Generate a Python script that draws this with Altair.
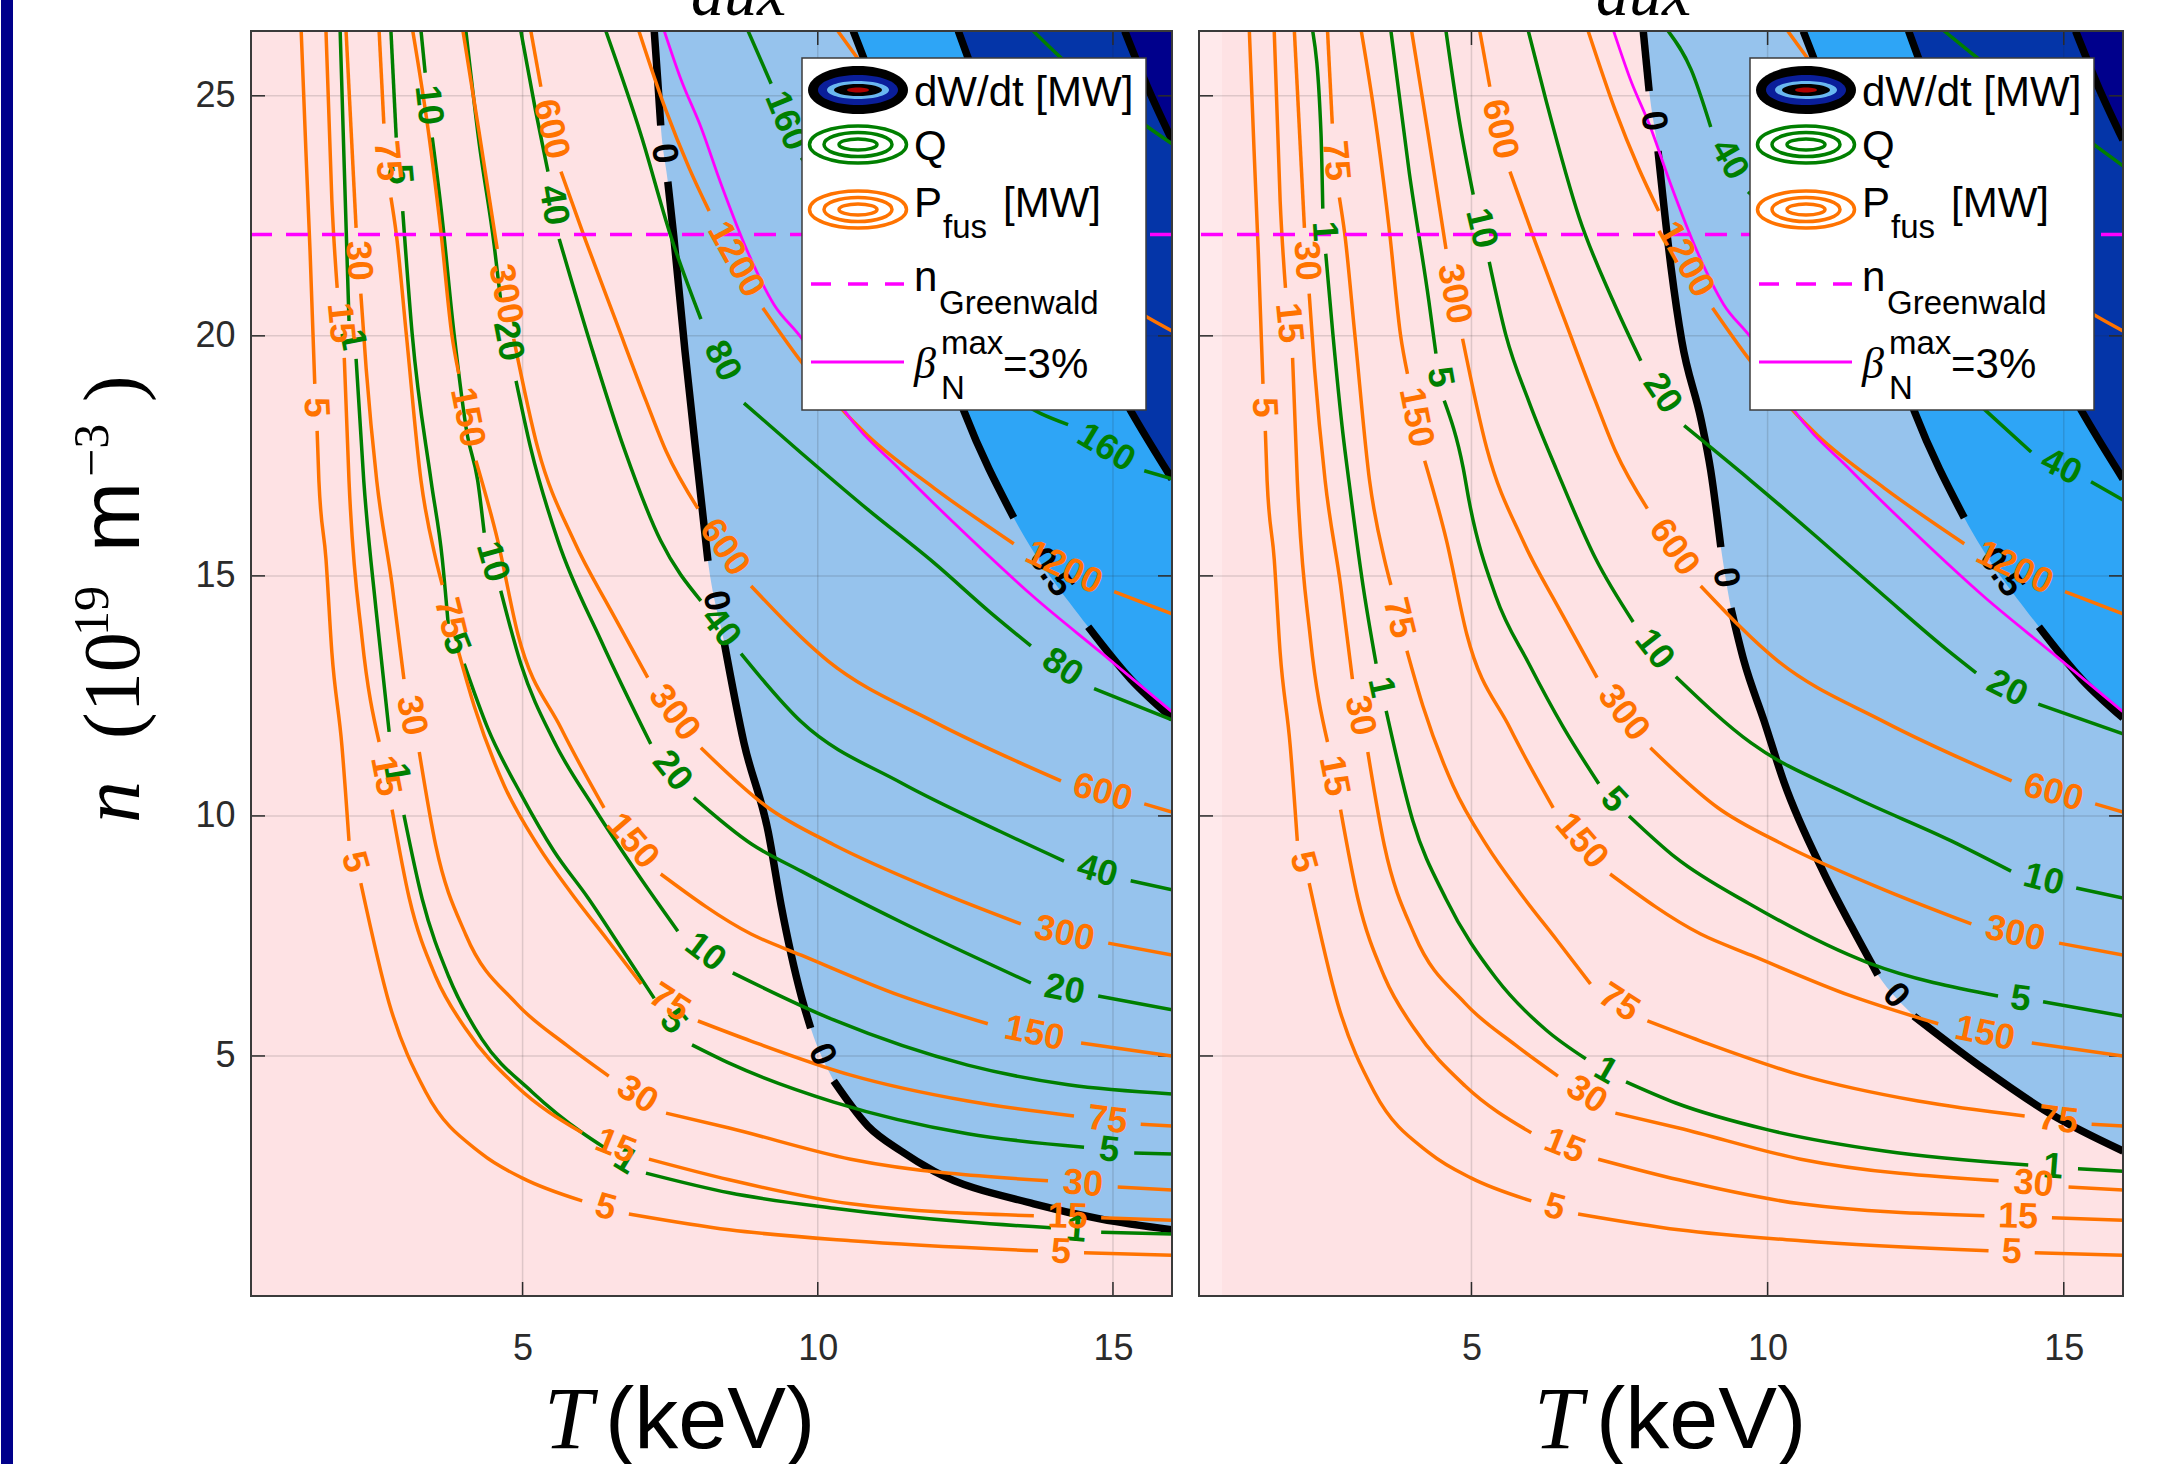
import math
import altair as alt
import pandas as pd

# ---------------- values ----------------
T_DOMAIN = [0.4, 16.0]          # keV
N_DOMAIN = [0.0, 26.35]         # 1e19 m^-3
X_TICKS = [5, 10, 15]
Y_TICKS = [5, 10, 15, 20, 25]
GREENWALD_N = 22.11
RIGHT_STRIP_T = [0.4, 0.79]     # slightly lighter lowest dW/dt band, right panel

# Fusion power contours [MW] (same in both panels); each list = segments, breaks = label gaps
PFUS_5 = [
    [(1.25, 26.35), (1.33, 23.85), (1.40, 21.77), (1.48, 19.00)],
    [(1.52, 18.02), (1.55, 16.98), (1.67, 15.35), (1.77, 13.40), (1.94, 11.46), (2.06, 9.48)],
    [(2.26, 8.60), (2.74, 6.10), (3.36, 4.25), (4.31, 2.96), (4.99, 2.46), (6.01, 1.98)],
    [(6.80, 1.71), (8.50, 1.38), (10.56, 1.15), (13.73, 0.94)],
    [(14.51, 0.90), (16.0, 0.85)],
]
PFUS_15 = [
    [(1.67, 26.35), (1.77, 22.81), (1.86, 21.00)],
    [(1.98, 19.54), (2.06, 16.98), (2.28, 13.71), (2.57, 11.54)],
    [(2.79, 10.13), (3.08, 8.29), (3.53, 6.65), (4.04, 5.56), (4.89, 4.38), (6.01, 3.40)],
    [(7.14, 2.85), (8.50, 2.42), (10.56, 1.92), (13.66, 1.67)],
    [(14.80, 1.63), (16.0, 1.58)],
]
PFUS_30 = [
    [(2.01, 26.35), (2.18, 22.25)],
    [(2.26, 20.88), (2.35, 19.33), (2.53, 16.98), (2.79, 14.81), (2.99, 12.85)],
    [(3.25, 11.33), (3.53, 9.38), (4.04, 7.52), (4.89, 6.10), (5.74, 5.23), (6.46, 4.58)],
    [(7.43, 3.81), (8.50, 3.50), (10.56, 2.85), (13.90, 2.40)],
    [(15.08, 2.27), (16.0, 2.21)],
]
PFUS_75 = [
    [(2.57, 26.35), (2.65, 24.42)],
    [(2.77, 22.88), (2.86, 22.13), (3.03, 20.04), (3.28, 16.98), (3.53, 15.35), (3.64, 14.81)],
    [(3.91, 13.44), (4.18, 12.29), (4.69, 10.63), (5.26, 9.38), (5.82, 8.40), (6.45, 7.40), (7.01, 6.50)],
    [(7.97, 5.73), (8.87, 5.31), (10.56, 4.60), (12.54, 4.06), (14.34, 3.75)],
    [(15.47, 3.58), (16.0, 3.54)],
]
PFUS_150 = [
    [(3.14, 26.35), (3.41, 24.21), (3.62, 22.13), (3.80, 20.04), (3.92, 19.21)],
    [(4.21, 17.40), (4.58, 15.73), (4.92, 13.79), (5.65, 11.83), (6.38, 10.17)],
    [(7.34, 8.79), (8.87, 7.54), (9.72, 7.10), (11.41, 6.25), (12.88, 5.67)],
    [(14.46, 5.27), (16.0, 5.00)],
]
PFUS_300 = [
    [(3.99, 26.35), (4.26, 24.27), (4.57, 21.81)],
    [(4.85, 19.94), (5.26, 17.65), (5.87, 15.73), (6.50, 14.27), (7.12, 12.88)],
    [(8.02, 11.42), (9.16, 10.17), (10.27, 9.40), (11.97, 8.46), (13.44, 7.75)],
    [(14.92, 7.35), (16.0, 7.10)],
]
PFUS_600 = [
    [(5.14, 26.35), (5.31, 25.19)],
    [(5.65, 23.42), (6.07, 21.98), (6.58, 20.31), (7.09, 18.65), (7.43, 17.60), (7.97, 16.40)],
    [(8.87, 14.79), (10.17, 13.23), (11.97, 11.96), (14.12, 10.73)],
    [(15.53, 10.25), (16.0, 10.08)],
]
PFUS_1200 = [
    [(6.97, 26.35), (7.43, 24.69), (7.82, 23.50), (8.16, 22.60)],
    [(9.07, 20.58), (9.72, 19.46), (10.85, 17.92), (11.97, 16.83), (13.32, 15.67)],
    [(15.02, 14.67), (16.0, 14.21)],
]
PFUS_2400 = [[(10.34, 26.35), (10.73, 25.69), (15.59, 20.38), (16.0, 20.10)]]

# Q contours, left panel
Q_L_1 = [
    [(1.91, 26.35), (1.98, 23.50), (2.06, 20.31)],
    [(2.18, 19.52), (2.31, 16.98), (2.52, 14.27), (2.74, 11.75)],
    [(2.99, 10.02), (3.30, 8.27), (3.75, 6.65), (4.31, 5.35), (5.16, 4.25), (6.01, 3.40), (6.40, 3.08)],
    [(7.09, 2.56), (8.50, 2.15), (10.27, 1.83), (12.54, 1.54), (13.95, 1.42)],
    [(14.80, 1.33), (16.0, 1.29)],
]
Q_L_5 = [
    [(2.77, 26.35), (2.86, 24.13)],
    [(2.97, 22.60), (3.13, 20.04), (3.45, 16.98), (3.64, 15.35), (3.74, 14.00)],
    [(4.01, 13.17), (4.41, 11.83), (4.97, 10.46), (5.53, 9.27), (6.11, 8.29), (6.67, 7.25), (7.23, 6.20)],
    [(7.87, 5.23), (8.50, 4.85), (10.27, 4.04), (12.54, 3.38), (14.51, 3.10)],
    [(15.36, 2.98), (16.0, 2.96)],
]
Q_L_10 = [
    [(3.28, 26.35), (3.35, 25.48)],
    [(3.47, 24.13), (3.62, 22.65), (3.84, 20.04), (4.06, 17.96), (4.24, 16.98), (4.35, 15.90)],
    [(4.63, 14.69), (4.97, 13.17), (5.53, 11.56), (6.21, 10.17), (6.95, 8.79), (7.63, 7.60)],
    [(8.56, 6.73), (10.27, 5.75), (12.54, 4.81), (14.24, 4.40), (16.0, 4.21)],
]
Q_L_20 = [
    [(4.04, 26.35), (4.26, 24.06), (4.52, 21.88), (4.63, 20.73)],
    [(4.89, 19.06), (5.14, 17.65), (5.60, 15.73), (6.33, 13.65), (7.17, 11.50)],
    [(7.90, 10.38), (8.87, 9.42), (9.72, 8.85), (11.41, 7.79), (13.61, 6.52)],
    [(14.75, 6.25), (16.0, 5.96)],
]
Q_L_40 = [
    [(4.97, 26.35), (5.22, 24.69), (5.43, 23.42)],
    [(5.62, 22.02), (6.16, 19.79), (6.72, 17.65), (7.34, 15.73), (8.02, 14.48)],
    [(8.70, 13.38), (9.72, 11.96), (11.41, 10.69), (13.10, 9.67), (14.17, 9.06)],
    [(15.30, 8.65), (16.0, 8.46)],
]
Q_L_80 = [
    [(6.41, 26.35), (7.01, 24.17), (7.51, 22.08), (8.02, 20.35)],
    [(8.75, 18.60), (9.72, 17.56), (10.85, 16.38), (11.97, 15.27), (12.93, 14.23), (13.61, 13.54)],
    [(14.68, 12.65), (16.0, 12.00)],
]
Q_L_160 = [
    [(8.82, 26.35), (9.21, 25.25)],
    [(9.72, 23.71), (13.78, 18.38), (14.24, 18.15)],
    [(15.53, 17.19), (16.0, 17.02)],
]
Q_L_320 = [[(13.65, 26.35), (14.12, 25.79), (15.59, 24.35), (16.0, 24.00)]]

# Q contours, right panel
Q_R_1 = [
    [(2.32, 26.35), (2.46, 24.21), (2.49, 22.65)],
    [(2.54, 21.71), (2.66, 20.04), (2.83, 17.96), (2.93, 16.98), (3.17, 14.79), (3.39, 13.17)],
    [(3.56, 12.19), (4.01, 9.90), (4.57, 8.27), (5.41, 6.63), (6.26, 5.54), (6.93, 4.94)],
    [(7.61, 4.46), (8.45, 4.02), (10.01, 3.46), (11.97, 3.02), (14.40, 2.73)],
    [(15.24, 2.65), (16.0, 2.60)],
]
Q_R_5 = [
    [(3.64, 26.35), (3.95, 23.40), (4.28, 20.73), (4.40, 19.63)],
    [(4.54, 18.65), (4.86, 17.25), (4.96, 16.56), (5.41, 14.58), (5.97, 13.17), (6.55, 11.85), (7.15, 10.67)],
    [(7.66, 10.00), (8.45, 9.13), (9.72, 8.15), (11.70, 6.94), (13.89, 6.25)],
    [(14.65, 6.13), (16.0, 5.83)],
]
Q_R_10 = [
    [(4.57, 26.35), (4.79, 24.52), (5.03, 22.94)],
    [(5.30, 21.54), (5.58, 20.02), (5.97, 18.63), (6.43, 17.23), (7.10, 15.35), (7.73, 14.04)],
    [(8.45, 12.90), (9.72, 11.52), (11.41, 10.42), (13.10, 9.48), (14.11, 8.85)],
    [(15.21, 8.50), (16.0, 8.29)],
]
Q_R_20 = [
    [(5.96, 26.35), (6.26, 24.90), (6.82, 22.46), (7.39, 20.73), (7.86, 19.48)],
    [(8.59, 18.13), (9.72, 16.98), (10.85, 15.79), (11.97, 14.58), (13.01, 13.48), (13.52, 12.98)],
    [(14.57, 12.33), (16.0, 11.71)],
]
Q_R_40 = [
    [(8.32, 26.35), (8.71, 25.54), (9.04, 24.35)],
    [(9.67, 23.00), (13.72, 18.40), (14.45, 17.58)],
    [(15.46, 16.96), (16.0, 16.58)],
]
Q_R_80 = [[(12.98, 26.35), (13.43, 25.90), (15.58, 23.92), (16.0, 23.54)]]

# dW/dt contours [MW]
DW0_L = [
    [(7.23, 26.35), (7.29, 25.31), (7.34, 24.38)],
    [(7.46, 23.21), (7.56, 22.08), (7.75, 19.69), (7.99, 16.98), (8.14, 15.31)],
    [(8.41, 13.65), (8.75, 11.52), (9.16, 9.67), (9.38, 8.13), (9.72, 6.25), (9.88, 5.58)],
    [(10.27, 4.48), (10.85, 3.54), (11.41, 3.02), (11.97, 2.60), (13.66, 1.92), (14.80, 1.60), (16.0, 1.38)],
]
DW0_R = [
    [(7.90, 26.35), (8.00, 25.10)],
    [(8.15, 23.85), (8.37, 21.42), (8.55, 19.90), (8.88, 18.23), (9.04, 17.19), (9.21, 15.60)],
    [(9.38, 14.33), (9.60, 13.23), (9.94, 11.98), (10.28, 10.69), (10.95, 8.81), (11.41, 7.71), (11.86, 6.69)],
    [(12.47, 5.83), (13.65, 4.73), (14.78, 3.79), (16.0, 3.02)],
]
DW_05 = [
    [(10.60, 26.35), (10.77, 25.81), (12.48, 18.42), (13.32, 16.21)],
    [(14.58, 13.94), (15.30, 12.85), (16.0, 12.04)],
]
DW_1 = [[(12.38, 26.35), (12.54, 25.81), (15.30, 18.44), (16.0, 17.02)]]
DW_2 = [[(15.20, 26.35), (15.59, 25.17), (16.0, 24.08)]]

BETA_LIMIT = [(7.40, 26.35), (7.68, 25.35), (8.02, 24.35), (8.36, 23.17), (8.82, 21.73), (9.26, 20.65),
              (9.72, 19.96), (10.44, 18.46), (11.41, 17.19), (12.54, 15.83), (13.66, 14.56),
              (14.80, 13.40), (16.0, 12.17)]

PFUS_CURVES = [("5", PFUS_5), ("15", PFUS_15), ("30", PFUS_30), ("75", PFUS_75), ("150", PFUS_150),
               ("300", PFUS_300), ("600", PFUS_600), ("1200", PFUS_1200), ("2400", PFUS_2400)]
Q_LEFT = [("1", Q_L_1), ("5", Q_L_5), ("10", Q_L_10), ("20", Q_L_20), ("40", Q_L_40),
          ("80", Q_L_80), ("160", Q_L_160), ("320", Q_L_320)]
Q_RIGHT = [("1", Q_R_1), ("5", Q_R_5), ("10", Q_R_10), ("20", Q_R_20), ("40", Q_R_40), ("80", Q_R_80)]

# ---------------- styling ----------------
W_L, W_R, H = 921, 924, 1265
ORANGE = "#ff7300"
GREEN = "#007f00"
MAGENTA = "#ff00ff"
PINK = "#fee2e4"
PALE_PINK = "#ffe9eb"
LIGHT_BLUE = "#96c3ed"
BRIGHT_BLUE = "#2ea5f6"
MID_BLUE = "#0435a8"
NAVY = "#00008c"
AXIS_GRAY = "#2b2b2b"
SANS = "Liberation Sans"
SERIF = "Liberation Serif"
ONE = pd.DataFrame({"k": [0]})
TOP_EXTRA = 100   # room above the page for the cut-off panel titles


def curve_frames(curves, width):
    pxT = width / (T_DOMAIN[1] - T_DOMAIN[0])
    pxN = H / (N_DOMAIN[1] - N_DOMAIN[0])
    lines, labels = [], []
    for ci, (name, segs) in enumerate(curves):
        for si, seg in enumerate(segs):
            for i, (t, n) in enumerate(seg):
                lines.append({"T": t, "n": n, "seg": f"c{ci}s{si}", "i": i})
            if si + 1 < len(segs):
                t1, n1 = seg[-1]
                t2, n2 = segs[si + 1][0]
                ang = math.degrees(math.atan2(-(n2 - n1) * pxN, (t2 - t1) * pxT))
                if ang > 90:
                    ang -= 180
                if ang < -90:
                    ang += 180
                labels.append({"T": (t1 + t2) / 2, "n": (n1 + n2) / 2, "text": name, "angle": ang % 360})
    return pd.DataFrame(lines), pd.DataFrame(labels)


def fill_frame(segs):
    pts = sorted([p for s in segs for p in s], key=lambda p: p[0])
    return pd.DataFrame({"T": [p[0] for p in pts], "n": [p[1] for p in pts],
                         "top": [N_DOMAIN[1]] * len(pts)})


def txt(s, x, y, size=42, font=SANS, style="normal", align="left", angle=0, weight="normal", color="black"):
    return alt.Chart(ONE).mark_text(text=s, font=font, fontSize=size, fontStyle=style, align=align,
                                    baseline="alphabetic", angle=angle, fontWeight=weight,
                                    color=color).encode(x=alt.value(x), y=alt.value(y))


def ellipse(cx, cy, w, h, fill=None, stroke=None, sw=3.5):
    r = h / w
    path = f"M -1 0 A 1 {r:.4f} 0 1 1 1 0 A 1 {r:.4f} 0 1 1 -1 0 Z"
    if fill:
        m = alt.Chart(ONE).mark_point(shape=path, size=w * w, filled=True, fill=fill, strokeWidth=0, opacity=1)
    else:
        m = alt.Chart(ONE).mark_point(shape=path, size=w * w, filled=False, stroke=stroke, strokeWidth=sw, opacity=1)
    return m.encode(x=alt.value(cx), y=alt.value(cy))


def legend_layers():
    L = []
    L.append(alt.Chart(ONE).mark_rect(fill="white", stroke="#3c3c3c", strokeWidth=1.5).encode(
        x=alt.value(551), x2=alt.value(895), y=alt.value(27), y2=alt.value(379)))
    cx = 607
    for w, h, c in [(100, 48, "black"), (80, 30, "#0a1e9a"), (62, 18, "#6ab8f0"), (48, 12, "black"), (22, 5, "#b00000")]:
        L.append(ellipse(cx, 59, w, h, fill=c))
    for cy, col in [(113.5, GREEN), (178.5, ORANGE)]:
        for w, h in [(97, 37), (68, 24), (38, 11)]:
            L.append(ellipse(cx, cy, w, h, stroke=col))
    L.append(alt.Chart(ONE).mark_rule(color=MAGENTA, strokeWidth=3.5, strokeDash=[20, 17]).encode(
        x=alt.value(560), x2=alt.value(653), y=alt.value(253)))
    L.append(alt.Chart(ONE).mark_rule(color=MAGENTA, strokeWidth=3).encode(
        x=alt.value(560), x2=alt.value(653), y=alt.value(331)))
    L += [txt("dW/dt [MW]", 663, 75), txt("Q", 663, 129), txt("P", 663, 186), txt("fus", 692, 207, size=33),
          txt("[MW]", 752, 186), txt("n", 663, 260), txt("Greenwald", 688, 283, size=33),
          txt("β", 663, 347, font=SERIF, style="italic", size=44), txt("max", 690, 323, size=33),
          txt("N", 690, 368, size=33), txt("=3%", 752, 347)]
    return L


AX_X = alt.Axis(values=X_TICKS, labelFont=SANS, labelFontSize=36, labelColor=AXIS_GRAY, labelPadding=35,
                ticks=False, tickSize=0, domain=False, grid=False, title=None)
AX_Y = alt.Axis(values=Y_TICKS, labelFont=SANS, labelFontSize=36, labelColor=AXIS_GRAY, labelPadding=16,
                ticks=False, tickSize=0, domain=False, grid=False, title=None)


def panel(width, q_curves, dw0, left):
    XS = alt.Scale(domain=T_DOMAIN, nice=False, zero=False)
    YS = alt.Scale(domain=N_DOMAIN, nice=False, zero=False)
    X = alt.X("T:Q", scale=XS, axis=AX_X)
    Y = alt.Y("n:Q", scale=YS, axis=AX_Y if left else None, stack=None)
    layers = []
    if not left:
        strip = pd.DataFrame({"T": [RIGHT_STRIP_T[0]], "T2": [RIGHT_STRIP_T[1]]})
        layers.append(alt.Chart(strip).mark_rect(color=PALE_PINK).encode(
            x=X, x2=alt.X2("T2:Q"), y=alt.value(0), y2=alt.value(H)))
    # filled dW/dt regions: everything above each boundary curve
    for segs, col in [(dw0, LIGHT_BLUE), (DW_05, BRIGHT_BLUE), (DW_1, MID_BLUE), (DW_2, NAVY)]:
        layers.append(alt.Chart(fill_frame(segs)).mark_area(color=col, clip=True, opacity=1,
                                                             interpolate="monotone").encode(
            x=X, y=Y, y2=alt.Y2("top:Q")))
    # grid
    layers.append(alt.Chart(pd.DataFrame({"T": X_TICKS})).mark_rule(color=AXIS_GRAY, opacity=0.15, strokeWidth=1.5).encode(x=X))
    layers.append(alt.Chart(pd.DataFrame({"n": Y_TICKS})).mark_rule(color=AXIS_GRAY, opacity=0.15, strokeWidth=1.5).encode(y=Y))
    # inward ticks
    tx = pd.DataFrame({"T": X_TICKS})
    ty = pd.DataFrame({"n": Y_TICKS})
    tick = dict(color=AXIS_GRAY, strokeWidth=1.5)
    layers.append(alt.Chart(tx).mark_rule(**tick).encode(x=X, y=alt.value(H), y2=alt.value(H - 14)))
    layers.append(alt.Chart(tx).mark_rule(**tick).encode(x=X, y=alt.value(0), y2=alt.value(14)))
    layers.append(alt.Chart(ty).mark_rule(**tick).encode(y=Y, x=alt.value(0), x2=alt.value(14)))
    layers.append(alt.Chart(ty).mark_rule(**tick).encode(y=Y, x=alt.value(width), x2=alt.value(width - 14)))
    # contour lines
    dw_lines, dw_labels = curve_frames([("0", dw0), ("0.5", DW_05), ("1", DW_1), ("2", DW_2)], width)
    q_lines, q_labels = curve_frames(q_curves, width)
    p_lines, p_labels = curve_frames(PFUS_CURVES, width)
    beta = pd.DataFrame({"T": [p[0] for p in BETA_LIMIT], "n": [p[1] for p in BETA_LIMIT],
                         "i": list(range(len(BETA_LIMIT)))})
    for df, col, sw in [(dw_lines, "black", 7.5), (q_lines, GREEN, 3.5), (p_lines, ORANGE, 3.5)]:
        layers.append(alt.Chart(df).mark_line(color=col, strokeWidth=sw, clip=True, strokeCap="butt",
                                              strokeJoin="round", interpolate="monotone").encode(
            x=X, y=Y, detail="seg:N", order=alt.Order("i:Q")))
    layers.append(alt.Chart(pd.DataFrame({"n": [GREENWALD_N]})).mark_rule(
        color=MAGENTA, strokeWidth=3.5, strokeDash=[22, 14]).encode(y=Y))
    layers.append(alt.Chart(beta).mark_line(color=MAGENTA, strokeWidth=2.8, clip=True,
                                            interpolate="monotone").encode(x=X, y=Y, order=alt.Order("i:Q")))
    # contour labels
    for df, col in [(dw_labels, "black"), (q_labels, GREEN), (p_labels, ORANGE)]:
        layers.append(alt.Chart(df).mark_text(font=SANS, fontSize=36, fontWeight="bold", color=col,
                                              align="center", baseline="middle").encode(
            x=X, y=Y, text="text:N", angle=alt.Angle("angle:Q", scale=None)))
    # legend
    layers += legend_layers()
    # frame
    layers.append(alt.Chart(ONE).mark_rect(fillOpacity=0, stroke="#3a3a3a", strokeWidth=2).encode(
        x=alt.value(0), x2=alt.value(width), y=alt.value(0), y2=alt.value(H)))
    # axis titles and the cut-off panel titles
    if left:
        layers += [txt("T", 293, 1417, size=88, font=SERIF, style="italic"),
                   txt("(keV)", 354, 1417, size=88),
                   txt("aux", 440, -16, size=66, font=SERIF, style="italic")]
        layers += [txt("n", -112, 792, size=84, font=SERIF, style="italic", angle=270),
                   txt("(10", -112, 708, size=80, font=SERIF, angle=270),
                   txt("19", -143, 605, size=50, font=SERIF, angle=270),
                   txt("m", -112, 521, size=84, angle=270),
                   txt("\u22123", -143, 446, size=50, font=SERIF, angle=270),
                   txt(")", -112, 371, size=80, font=SERIF, angle=270)]
        layers.append(alt.Chart(ONE).mark_rect(color="#00008b").encode(
            x=alt.value(-250), x2=alt.value(-238), y=alt.value(-30 - TOP_EXTRA), y2=alt.value(1434)))
    else:
        layers += [txt("T", 335, 1417, size=88, font=SERIF, style="italic"),
                   txt("(keV)", 397, 1417, size=88),
                   txt("aux", 397, -16, size=66, font=SERIF, style="italic")]
    return alt.layer(*layers).properties(width=width, height=H)


left = panel(W_L, Q_LEFT, DW0_L, True)
right = panel(W_R, Q_RIGHT, DW0_R, False)

chart = alt.hconcat(left, right, spacing=27, bounds="flush").properties(
    padding={"top": -TOP_EXTRA, "left": 0, "right": 0, "bottom": 0}).configure_view(
    stroke="transparent", fill=PINK)

chart.save("out.html", embed_options={"renderer": "svg", "actions": False})
